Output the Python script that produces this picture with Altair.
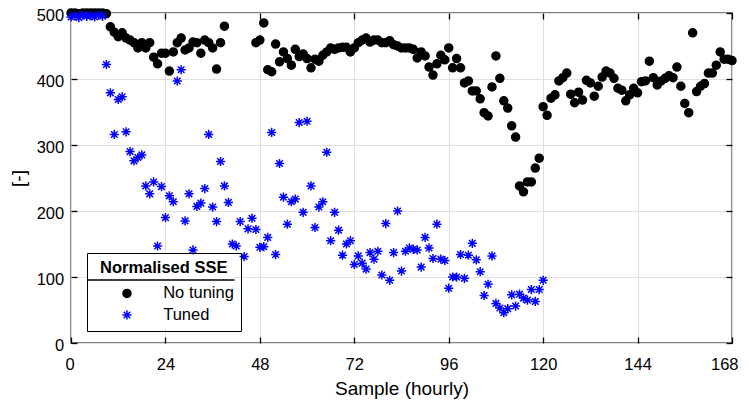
import altair as alt
import pandas as pd

FONT = "Liberation Sans"

series_names = ["No tuning", "Tuned"]
series_colors = ["black", "blue"]
x_ticks = [0, 24, 48, 72, 96, 120, 144, 168]
y_ticks = [0, 100, 200, 300, 400, 500]

hours = list(range(169))

# Normalised SSE without tuning (None = off the chart / not shown)
no_tuning = [
    500, 500, 499, 500, 500, 500, 500, 500, 500, 499,
    479, 471, 464, 470, 462, 459, 455, 447, 455, 447,
    455, 433, 423, 439, 439, 412, 441, 455, 462, 444,
    447, 456, 455, 439, 459, 455, 447, 415, 455, 480,
    None, None, None, None, None, None, None, 455, 459, 485,
    414, 411, 453, 426, 441, 431, 421, 445, 434, 438,
    431, 417, 430, 427, 436, 441, 447, 445, 447, 448,
    448, 441, 447, 455, 459, 462, 456, 459, 459, 455,
    455, 458, 452, 450, 447, 447, 447, 445, 432, 441,
    435, 418, 406, 423, 436, 429, 447, 417, 431, 417,
    394, 397, 382, 382, 370, 349, 344, 388, 435, 401,
    367, 356, 329, 312, 238, 229, 244, 244, 265, 280,
    358, 345, 371, 376, 397, 402, 409, 377, 364, 380,
    368, 398, 394, 374, 389, 403, 412, 409, 401, 386,
    383, 367, 376, 386, 379, 396, 397, 427, 402, 391,
    397, 401, 405, 402, 418, 389, 363, 349, 470, 381,
    389, 393, 409, 409, 421, 441, 430, 430, 428,
]

# Normalised SSE with tuning (hours 0..120)
tuned = [
    494, 496, 493, 497, 495, 496, 494, 497, 495, 422,
    379, 316, 369, 373, 320, 290, 276, 281, 285, 238,
    226, 244, 147, 237, 190, 223, 214, 397, 414, 185,
    226, 141, 207, 212, 234, 316, 206, 184, 275, 238,
    213, 150, 147, 184, 131, 173, 189, 172, 145, 146,
    160, 319, 134, 272, 221, 180, 214, 218, 334, 198,
    336, 238, 175, 206, 214, 289, 155, 198, 171, 133,
    150, 155, 119, 132, 121, 112, 137, 127, 139, 103,
    181, 95, 137, 200, 109, 139, 144, 142, 141, 115,
    160, 144, 128, 180, 127, 125, 83, 100, 100, 134,
    98, 133, 151, 126, 108, 72, 89, 132, 60, 53,
    46, 52, 73, 56, 74, 68, 65, 81, 63, 81,
    95,
]

rows = []
for h, v in zip(hours, no_tuning):
    if v is not None:
        rows.append({"hour": h, "sse": v, "series": series_names[0], "order": 0})
for h, v in zip(hours, tuned):
    rows.append({"hour": h, "sse": v, "series": series_names[1], "order": 1})
df = pd.DataFrame(rows)

ASTERISK = "M-1.15,0L1.15,0M0,-1.15L0,1.15M-0.82,-0.82L0.82,0.82M-0.82,0.82L0.82,-0.82"

xscale = alt.Scale(domain=[0, 168], nice=False, zero=False)
yscale = alt.Scale(domain=[0, 500], nice=False)

legend = alt.Legend(
    title="Normalised SSE", orient="none", legendX=16, legendY=240,
    direction="vertical",
    titleFont=FONT, titleFontSize=16.5, titleFontWeight="bold", titleColor="black",
    titleAnchor="middle", titlePadding=9,
    labelFont=FONT, labelFontSize=16.5, labelColor="black",
    labelOffset=28, symbolOffset=25, symbolSize=64, symbolStrokeWidth=1.5,
    rowPadding=4.5, padding=6.7,
    strokeColor="black", cornerRadius=0,
)

x_axis = alt.Axis(
    values=x_ticks, title="Sample (hourly)", grid=True, gridColor="#dfdfdf", gridWidth=1,
    domain=False, ticks=True, tickSize=6, tickColor="black", tickWidth=1.3, offset=-6,
    labelPadding=13, labelFont=FONT, labelFontSize=16.5, labelColor="black",
    labelFlush=True, labelFlushOffset=6,
    titleFont=FONT, titleFontSize=19, titleFontWeight="normal", titleColor="black", titlePadding=7,
)
y_axis = alt.Axis(
    values=y_ticks, title="[-]", grid=True, gridColor="#dfdfdf", gridWidth=1,
    domain=False, ticks=True, tickSize=6, tickColor="black", tickWidth=1.3, offset=-6,
    labelPadding=7.3, labelOffset=2, labelFont=FONT, labelFontSize=16.5, labelColor="black",
    labelFlush=False,
    titleFont=FONT, titleFontSize=19, titleFontWeight="normal", titleColor="black", titlePadding=8,
)

tick_layer = alt.Chart(df).mark_point(opacity=0).encode(
    x=alt.X("hour:Q", scale=xscale, axis=alt.Axis(
        orient="top", values=x_ticks, labels=False, grid=False, domain=False, ticks=True,
        tickSize=6, tickColor="black", tickWidth=1.3, offset=-6, title="")),
    y=alt.Y("sse:Q", scale=yscale, axis=alt.Axis(
        orient="right", values=y_ticks, labels=False, grid=False, domain=False, ticks=True,
        tickSize=6, tickColor="black", tickWidth=1.3, offset=-6, title="")),
)

# white backing of the legend box (hides grid lines behind the legend)
legend_bg = alt.Chart(pd.DataFrame({"k": [0]})).mark_rect(color="white").encode(
    x=alt.value(16.5), x2=alt.value(163), y=alt.value(240.5), y2=alt.value(316)
)

points = alt.Chart(df).mark_point(filled=False, size=64, strokeWidth=1.5, opacity=1).encode(
    x=alt.X("hour:Q", scale=xscale, axis=x_axis),
    y=alt.Y("sse:Q", scale=yscale, axis=y_axis),
    color=alt.Color("series:N", scale=alt.Scale(domain=series_names, range=series_colors), legend=legend),
    fill=alt.Fill("series:N", scale=alt.Scale(domain=series_names, range=series_colors), legend=legend),
    shape=alt.Shape("series:N", scale=alt.Scale(domain=series_names, range=["circle", ASTERISK]), legend=legend),
    order=alt.Order("order:Q"),
)

# separator line under the legend title
sep = alt.Chart(pd.DataFrame({"k": [0]})).mark_rule(color="black", strokeWidth=1.3).encode(
    x=alt.value(16), x2=alt.value(163.5), y=alt.value(267)
)

chart = alt.layer(tick_layer, legend_bg, points, sep).resolve_axis(
    x="independent", y="independent"
).properties(
    width=661, height=330,
    autosize=alt.AutoSizeParams(type="none"),
    padding={"left": 63, "top": 5, "right": 9, "bottom": 56},
    background="white",
).configure_view(stroke="black", strokeWidth=1.3)

chart.save("out.html", embed_options={"renderer": "svg", "actions": False})
